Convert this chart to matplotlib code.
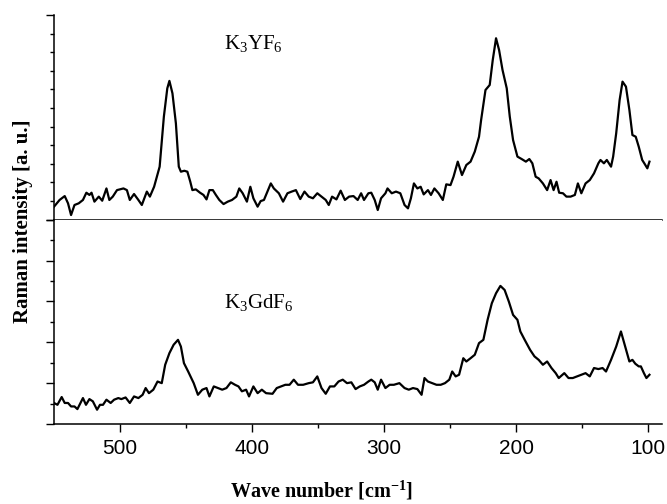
import matplotlib
matplotlib.use("Agg")
import matplotlib.pyplot as plt
from matplotlib.ticker import FixedLocator

plt.rcParams['mathtext.fontset'] = 'custom'
plt.rcParams['mathtext.rm'] = 'Liberation Serif'
plt.rcParams['mathtext.it'] = 'Liberation Serif:italic'
plt.rcParams['mathtext.bf'] = 'Liberation Serif:bold'

# ---- data: K3YF6 (top panel) ----
wn_y = [550, 545.8, 541.9, 539.4, 537.1, 534.5, 531.3, 528.1, 525.5, 523.2, 521.6, 519.4,
        516.1, 513.5, 510.3, 508.1, 505.5, 502.3, 497.4, 494.8, 492.6, 489.4, 486.1, 483.5,
        479.7, 477.4, 474.2, 470, 466.8, 464.2, 462.6, 460.3, 457.7, 455.5, 453.9, 451.3,
        449, 446.8, 445.2, 442.6, 439.4, 436.8, 434.5, 432.3, 429.7, 427.4, 424.8, 421.6,
        418.4, 415.2, 411.9, 409.7, 407.1, 403.9, 401.3, 399, 395.8, 393.5, 391, 388.4,
        385.8, 383.5, 379.7, 376.5, 373.2, 370, 366.8, 363.5, 360.3, 357.1, 353.9, 350.6,
        347.4, 344.2, 341.9, 339.4, 336.1, 332.9, 329.7, 326.5, 323.2, 320, 317.4, 315.2,
        311.9, 309.7, 307.1, 304.8, 302.3, 299, 297.4, 294.2, 291, 287.7, 284.5, 281.9,
        279.7, 277.4, 274.8, 272.3, 270, 266.8, 264.5, 261.9, 258.7, 255.5, 252.9, 249.7,
        247.4, 244.2, 241, 237.7, 234.5, 231.3, 228.1, 226.5, 223.2, 220, 217.7, 215.2,
        212.9, 210.3, 207.1, 204.8, 202.3, 199, 195.8, 192.6, 190, 187.7, 185.2, 182.9,
        179.7, 176.5, 173.9, 171.6, 169.4, 167.4, 164.5, 161.9, 158.7, 155.5, 153.2, 150.6,
        147.4, 144.2, 141, 137.7, 136.1, 133.5, 131.3, 128.1, 126.5, 124.2, 121.6, 119.4,
        116.8, 114.2, 111.9, 109.4, 107.1, 104.5, 102.9, 100.6, 99]
int_y = [7.0, 10.6, 12.7, 8.8, 2.5, 7.9, 8.8, 10.6, 14.5, 13.3, 14.5, 9.7,
         12.4, 10.2, 16.8, 10.6, 12.4, 15.9, 16.8, 15.9, 10.6, 13.8, 10.6, 7.9,
         15.1, 12.4, 17.7, 28.5, 55.4, 70.6, 74.6, 67.9, 51.8, 28.5, 25.8, 26.3,
         25.8, 20.4, 15.9, 16.3, 14.5, 13.3, 10.9, 15.9, 15.9, 13.3, 10.6, 8.4,
         9.7, 10.6, 12.4, 16.8, 14.2, 9.7, 17.7, 11.5, 7.0, 10.0, 10.6, 15.1,
         19.5, 16.8, 14.2, 9.7, 14.2, 15.1, 15.9, 11.1, 15.1, 12.4, 11.5, 14.2,
         12.4, 10.6, 7.9, 12.4, 10.9, 15.6, 10.6, 12.4, 12.7, 10.6, 14.2, 10.6,
         14.2, 14.5, 10.6, 5.2, 11.5, 14.2, 16.8, 14.2, 15.1, 14.2, 7.9, 6.1,
         11.5, 19.5, 16.8, 17.7, 13.6, 15.9, 13.3, 16.8, 14.2, 10.6, 19.0, 18.6,
         23.1, 31.2, 24.0, 29.4, 31.2, 36.6, 44.6, 53.6, 69.7, 72.4, 85.8, 97.5,
         91.2, 80.5, 70.6, 55.4, 42.8, 33.9, 32.6, 31.2, 32.6, 30.3, 23.1, 22.2,
         19.5, 15.9, 21.3, 15.9, 20.4, 14.5, 14.2, 12.4, 12.4, 13.3, 19.5, 14.2,
         19.5, 21.3, 24.9, 30.3, 32.1, 30.3, 32.1, 28.5, 33.9, 46.4, 64.3, 74.2,
         71.5, 59.0, 45.5, 44.6, 39.2, 32.1, 30.3, 27.6, 31.2]

# ---- data: K3GdF6 (bottom panel) ----
wn_gd = [550, 547.4, 544.2, 541.9, 539.4, 537.1, 534.5, 532.3, 528.1, 525.8, 523.2, 520.6,
         517.4, 515.2, 512.9, 510.3, 507.1, 504.5, 501.3, 499, 495.8, 492.6, 489.4, 486.1,
         482.9, 480.6, 478.1, 474.8, 471.6, 468.4, 465.8, 462.6, 459.4, 456.1, 453.9, 451.6,
         448.4, 444.2, 441, 437.7, 434.5, 432.3, 429, 425.8, 422.6, 419.4, 416.1, 412.9,
         410.3, 407.7, 404.5, 402.3, 399, 395.8, 392.6, 389.4, 384.5, 381.3, 378.1, 374.8,
         371.6, 368.4, 365.2, 361.3, 357.1, 353.9, 350.6, 347.4, 344.2, 341, 337.7, 334.5,
         331.3, 328.1, 324.8, 321.6, 318.4, 315.2, 311.9, 309.7, 307.1, 304.8, 302.3, 299,
         295.8, 292.6, 288.4, 284.5, 281.3, 278.1, 274.8, 271.6, 269.4, 266.8, 263.5, 260.3,
         257.1, 253.9, 250.6, 248.4, 245.8, 243.2, 240, 237.7, 234.5, 231.3, 228.1, 224.8,
         221.6, 218.4, 215.2, 211.9, 208.7, 205.5, 202.3, 199, 196.8, 193.5, 189.4, 186.1,
         182.9, 179.7, 176.5, 173.2, 170, 167.7, 163.5, 160.3, 157.1, 153.9, 150.6, 147.4,
         144.2, 141, 137.7, 134.5, 131.9, 128.1, 124.2, 120.6, 117.4, 114.2, 111.9, 109.7,
         107.1, 105.5, 103.2, 101.3, 99]
int_gd = [10.3, 9.4, 13.2, 10.3, 10.3, 8.6, 8.6, 7.3, 12.7, 9.4, 12.2, 11.1,
          7.0, 9.4, 9.4, 11.9, 10.3, 11.9, 12.7, 12.2, 13.0, 10.3, 13.5, 12.7,
          14.3, 17.6, 15.1, 16.8, 20.8, 20.0, 29.0, 34.7, 38.8, 41.2, 37.9, 29.8,
          25.7, 20.0, 14.3, 16.8, 17.6, 13.5, 18.4, 17.6, 16.8, 17.6, 20.4, 19.2,
          18.4, 16.0, 16.8, 13.5, 18.4, 15.1, 16.8, 15.1, 14.8, 17.6, 18.4, 19.2,
          19.2, 21.7, 19.2, 19.2, 20.0, 20.4, 23.3, 17.6, 14.8, 18.4, 18.4, 20.8,
          21.7, 20.0, 20.4, 17.1, 18.4, 19.2, 20.8, 21.7, 20.4, 16.8, 21.7, 17.6,
          19.2, 19.2, 20.0, 17.6, 16.8, 17.6, 17.1, 14.3, 22.5, 20.8, 20.0, 19.2,
          19.2, 20.0, 21.7, 25.7, 23.3, 24.1, 32.2, 30.6, 32.2, 33.9, 39.6, 41.2,
          51.0, 59.1, 64.0, 67.6, 65.6, 59.9, 53.4, 51.0, 45.3, 41.2, 36.3, 33.1,
          31.4, 29.0, 30.6, 27.4, 24.9, 22.5, 24.9, 22.5, 22.5, 23.3, 24.1, 24.9,
          23.3, 27.4, 26.9, 27.4, 25.7, 31.4, 37.9, 45.3, 37.9, 30.6, 31.4, 29.5,
          28.2, 28.2, 24.9, 22.5, 24.1]

x_major = [500, 400, 300, 200, 100]
x_minor = [450, 350, 250, 150]
label_top = r'$\mathrm{K_3YF_6}$'
label_bottom = r'$\mathrm{K_3GdF_6}$'

fig = plt.figure(figsize=(6.67, 5.04), dpi=100)
L, W = 0.081, 0.9115
ax_top = fig.add_axes([L, 0.5641, W, 0.4061])
ax_bot = fig.add_axes([L, 0.1587, W, 0.4054])

ax_top.plot(wn_y, int_y, color='black', lw=1.6, solid_joinstyle='round')
ax_bot.plot(wn_gd, int_gd, color='black', lw=1.6, solid_joinstyle='round')

ax_top.set_ylim(0, 110)
ax_top.yaxis.set_major_locator(FixedLocator([0, 110]))
ax_top.yaxis.set_minor_locator(FixedLocator([10, 20, 30, 40, 50, 60, 70, 80, 90, 100]))
ax_top.tick_params(axis='x', which='both', bottom=False, labelbottom=False)

ax_bot.set_ylim(0, 100)
ax_bot.yaxis.set_major_locator(FixedLocator([0, 20, 40, 60, 80, 100]))
ax_bot.yaxis.set_minor_locator(FixedLocator([10, 30, 50, 70, 90]))
ax_bot.xaxis.set_major_locator(FixedLocator(x_major))
ax_bot.xaxis.set_minor_locator(FixedLocator(x_minor))

for ax in (ax_top, ax_bot):
    ax.set_xlim(550, 89.5)
    for s in ('top', 'right'):
        ax.spines[s].set_visible(False)
    ax.spines['left'].set_linewidth(1.1)
    ax.spines['bottom'].set_linewidth(1.1)
    ax.tick_params(axis='y', which='major', left=True, direction='out', length=5.8,
                   width=1.0, labelleft=False)
    ax.tick_params(axis='y', which='minor', left=True, direction='out', length=3.0,
                   width=1.0, labelleft=False)

ax_bot.tick_params(axis='x', which='major', direction='out', length=5.8, width=1.0,
                   pad=5, labelsize=15)
ax_bot.tick_params(axis='x', which='minor', bottom=True, direction='out', length=3, width=1.0)
for lab in ax_bot.get_xticklabels():
    lab.set_fontfamily('Liberation Sans')

ax_top.text(0.28, 0.834, label_top, transform=ax_top.transAxes, fontsize=15,
            va='baseline', ha='left')
ax_bot.text(0.28, 0.568, label_bottom, transform=ax_bot.transAxes, fontsize=15,
            va='baseline', ha='left')

ax_bot.set_xlabel(r'Wave number [cm$^{\mathbf{-1}}$]', fontfamily='Liberation Serif',
                  fontweight='bold', fontsize=14.5, labelpad=14)
ax_bot.xaxis.set_label_coords(0.44, -0.27)
fig.text(0.035, 1 - 221 / 504, 'Raman intensity [a. u.]', rotation=90,
         fontfamily='Liberation Serif', fontweight='bold', fontsize=15,
         ha='center', va='center')

fig.savefig('out.png', dpi=100)
